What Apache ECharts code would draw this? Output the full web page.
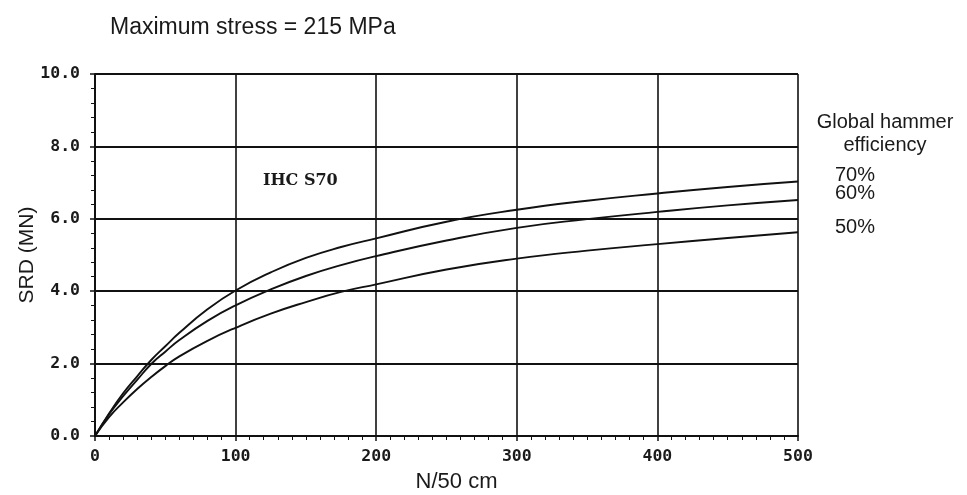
<!DOCTYPE html>
<html>
<head>
<meta charset="utf-8">
<script src="https://cdn.jsdelivr.net/npm/echarts@6/dist/echarts.min.js"></script>
<style>html,body{margin:0;padding:0;background:#fff}#c{width:967px;height:495px}</style>
</head>
<body>
<div id="c"></div>
<script>
// Blow counts N per 50 cm
const blows = [0,10,20,30,40,50,60,80,100,125,150,175,200,250,300,350,400,450,500];
// SRD (MN) per global hammer efficiency
const srd70 = [0,0.62,1.18,1.65,2.10,2.48,2.85,3.50,4.02,4.52,4.92,5.22,5.46,5.92,6.25,6.50,6.70,6.88,7.03];
const srd60 = [0,0.60,1.10,1.55,1.99,2.33,2.65,3.18,3.61,4.05,4.42,4.72,4.97,5.40,5.75,5.99,6.19,6.37,6.52];
const srd50 = [0,0.52,0.93,1.30,1.63,1.93,2.20,2.63,2.99,3.38,3.70,3.98,4.19,4.60,4.90,5.12,5.30,5.47,5.63];
const efficiencyLabels = ['70%','60%','50%'];

const chart = echarts.init(document.getElementById('c'));
const pairs = ys => blows.map((x,i)=>[x, ys[i]]);
const lineStyle = {color:'#111', width:1.9};
const tickFont = {fontFamily:'DejaVu Sans Mono', fontWeight:'bold', fontSize:16.5, color:'#1a1a1a'};
const sans = 'Liberation Sans, Arial, sans-serif';

chart.setOption({
  animation:false,
  backgroundColor:'#fff',
  grid:{left:95, right:169, top:74, bottom:59, containLabel:false, outerBoundsMode:'none'},
  xAxis:{
    type:'value', min:0, max:500, interval:100,
    name:'N/50 cm', nameLocation:'middle', nameGap:35, nameMoveOverlap:false,
    nameTextStyle:{fontFamily:sans, fontSize:22, color:'#1a1a1a', padding:[0,0,0,20]},
    axisLine:{lineStyle:{color:'#111', width:2}},
    axisTick:{show:true, length:5, lineStyle:{color:'#111', width:1.5}},
    minorTick:{show:true, splitNumber:10, length:4, lineStyle:{color:'#111', width:1}},
    axisLabel:{...tickFont, margin:12},
    splitLine:{show:true, lineStyle:{color:'#111', width:1.6}}
  },
  yAxis:{
    type:'value', min:0, max:10, interval:2,
    name:'SRD (MN)', nameLocation:'middle', nameGap:57, nameRotate:90, nameMoveOverlap:false,
    nameTextStyle:{fontFamily:sans, fontSize:21, color:'#1a1a1a'},
    axisLine:{show:true, lineStyle:{color:'#111', width:2}},
    axisTick:{show:true, length:5, lineStyle:{color:'#111', width:1.5}},
    minorTick:{show:true, splitNumber:5, length:4, lineStyle:{color:'#111', width:1}},
    axisLabel:{...tickFont, margin:15, formatter:v=>v.toFixed(1)},
    splitLine:{show:true, lineStyle:{color:'#111', width:2}}
  },
  series:[
    {name:'70%', type:'line', smooth:true, showSymbol:false, data:pairs(srd70), lineStyle},
    {name:'60%', type:'line', smooth:true, showSymbol:false, data:pairs(srd60), lineStyle},
    {name:'50%', type:'line', smooth:true, showSymbol:false, data:pairs(srd50), lineStyle}
  ],
  graphic:[
    {type:'text', left:110, top:16, style:{text:'Maximum stress = 215 MPa', font:'23px '+sans, fill:'#1a1a1a'}},
    {type:'text', left:263, top:173, style:{text:'IHC S70', font:'bold 16px DejaVu Serif', fill:'#1a1a1a'}},
    {type:'text', x:885, y:122, style:{text:'Global hammer', font:'20px '+sans, fill:'#1a1a1a', align:'center', verticalAlign:'middle'}},
    {type:'text', x:885, y:145, style:{text:'efficiency', font:'20px '+sans, fill:'#1a1a1a', align:'center', verticalAlign:'middle'}},
    {type:'text', x:835, y:175, style:{text:efficiencyLabels[0], font:'20px '+sans, fill:'#1a1a1a', verticalAlign:'middle'}},
    {type:'text', x:835, y:193, style:{text:efficiencyLabels[1], font:'20px '+sans, fill:'#1a1a1a', verticalAlign:'middle'}},
    {type:'text', x:835, y:227, style:{text:efficiencyLabels[2], font:'20px '+sans, fill:'#1a1a1a', verticalAlign:'middle'}}
  ]
});
</script>
</body>
</html>
